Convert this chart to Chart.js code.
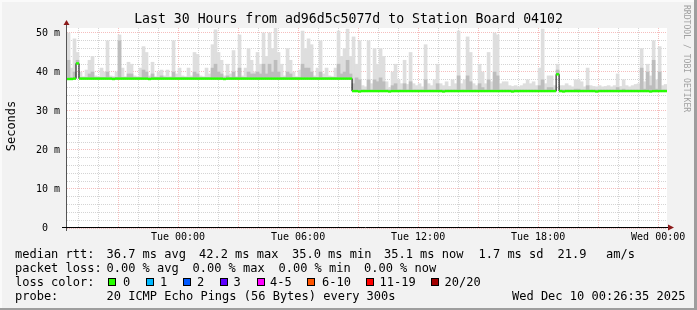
<!DOCTYPE html>
<html>
<head>
<meta charset="utf-8">
<script src="https://cdn.jsdelivr.net/npm/chart.js@4/dist/chart.umd.min.js"></script>
<style>
  html, body { margin: 0; padding: 0; }
  body { width: 697px; height: 310px; overflow: hidden; background: #f2f2f2; font-family: 'DejaVu Sans Mono', monospace; }
  #wrap { position: relative; width: 697px; height: 310px; }
  #chart { position: absolute; left: 0; top: 0; }
  .t { position: absolute; font-size: 12px; line-height: 14px; white-space: pre; color: #000; }
  .box { position: absolute; top: 278px; width: 6px; height: 6px; border: 1px solid #000; }
  .edge { position: absolute; }
</style>
</head>
<body>
<div id="wrap">
  <canvas id="chart" width="697" height="310"></canvas>

  <div class="t" style="left:0; top:11px; width:697px; text-align:center; font-size:13.2px; line-height:16px;">Last 30 Hours from ad96d5c5077d to Station Board 04102</div>
  <div class="t" style="left:-29px; top:119px; width:80px; text-align:center; transform:rotate(-90deg);">Seconds</div>
  <div class="t" style="left:683px; top:5px; font-size:8.1px; line-height:8px; writing-mode:vertical-rl; color:#a0a0a0;">RRDTOOL / TOBI OETIKER</div>

  <div class="t" style="left:15px; top:246.5px;">median rtt:</div>
  <div class="t" style="left:106.5px; top:246.5px;">36.7 ms avg</div>
  <div class="t" style="left:199px; top:246.5px;">42.2 ms max</div>
  <div class="t" style="left:292px; top:246.5px;">35.0 ms min</div>
  <div class="t" style="left:384px; top:246.5px;">35.1 ms now</div>
  <div class="t" style="left:478.5px; top:246.5px;">1.7 ms sd</div>
  <div class="t" style="left:557.5px; top:246.5px;">21.9</div>
  <div class="t" style="left:606px; top:246.5px;">am/s</div>

  <div class="t" style="left:15px; top:260.5px;">packet loss:</div>
  <div class="t" style="left:106.5px; top:260.5px;">0.00 % avg</div>
  <div class="t" style="left:192.5px; top:260.5px;">0.00 % max</div>
  <div class="t" style="left:278.5px; top:260.5px;">0.00 % min</div>
  <div class="t" style="left:364px; top:260.5px;">0.00 % now</div>

  <div class="t" style="left:15px; top:274.5px;">loss color:</div>
  <div id="lossLegend"></div>

  <div class="t" style="left:15px; top:288.5px;">probe:</div>
  <div class="t" style="left:106.5px; top:288.5px;">20 ICMP Echo Pings (56 Bytes) every 300s</div>
  <div class="t" style="left:512px; top:288.5px;">Wed Dec 10 00:26:35 2025</div>

  <div class="edge" style="left:0; top:0; width:697px; height:2px; background:#fafafa;"></div>
  <div class="edge" style="left:0; top:0; width:2px; height:310px; background:#fafafa;"></div>
  <div class="edge" style="right:0; top:0; width:3px; height:310px; background:#9e9e9e;"></div>
  <div class="edge" style="left:0; bottom:0; width:697px; height:2px; background:#9e9e9e;"></div>
</div>

<script>
// time base (hours counted from Mon 00:00), one sample every 9 minutes
const START = 18.45;
const END = 48.443;
const STEP = 0.15;

// x axis labels
const tickHours = [24, 30, 36, 42, 48];
const tickLabels = ['Tue 00:00', 'Tue 06:00', 'Tue 12:00', 'Tue 18:00', 'Wed 00:00'];

// y axis labels
const yTickValues = [0, 10, 20, 30, 40, 50];
const yTickLabels = ['0  ', '10 m', '20 m', '30 m', '40 m', '50 m'];

// loss colour legend
const lossNames = ['0', '1', '2', '3', '4-5', '6-10', '11-19', '20/20'];
const lossColors = ['#26ff00', '#00b8ff', '#0059ff', '#5e00ff', '#ff00ff', '#ff5500', '#ff0000', '#a10000'];
const lossBoxX = [108, 145.5, 182.5, 219.5, 256.5, 307, 365.5, 430.5];
const lossTextX = [123, 160, 197, 233.5, 270, 322, 379.5, 444.5];

// median rtt (ms)
const median = [
  38.2, 38.2, 38.3, 42.2, 38.3, 38.3, 38.3, 38.3, 38.3, 38.3,
  38.3, 38.3, 38.3, 38.3, 38.3, 38.2, 38.3, 38.3, 38.3, 38.3,
  38.3, 38.3, 38.3, 38.3, 38.3, 38.3, 38.3, 38.2, 38.3, 38.3,
  38.3, 38.3, 38.3, 38.3, 38.3, 38.3, 38.3, 38.3, 38.3, 38.3,
  38.3, 38.3, 38.3, 38.3, 38.3, 38.3, 38.3, 38.3, 38.3, 38.3,
  38.3, 38.3, 38.2, 38.3, 38.3, 38.3, 38.3, 38.3, 38.3, 38.3,
  38.3, 38.3, 38.3, 38.3, 38.3, 38.3, 38.3, 38.3, 38.3, 38.3,
  38.3, 38.3, 38.3, 38.3, 38.3, 38.3, 38.3, 38.3, 38.3, 38.3,
  38.3, 38.3, 38.3, 38.3, 38.3, 38.3, 38.3, 38.3, 38.3, 38.3,
  38.3, 38.3, 38.3, 38.3, 38.3, 35.1, 35.1, 35.0, 35.1, 35.1,
  35.1, 35.1, 35.1, 35.1, 35.1, 35.1, 35.1, 35.0, 35.1, 35.1,
  35.1, 35.1, 35.1, 35.1, 35.1, 35.1, 35.1, 35.1, 35.1, 35.1,
  35.1, 35.1, 35.1, 35.1, 35.1, 35.0, 35.1, 35.1, 35.1, 35.1,
  35.1, 35.1, 35.1, 35.1, 35.1, 35.1, 35.1, 35.1, 35.1, 35.1,
  35.1, 35.1, 35.1, 35.1, 35.1, 35.1, 35.1, 35.1, 35.0, 35.1,
  35.1, 35.1, 35.1, 35.1, 35.1, 35.1, 35.1, 35.1, 35.1, 35.1,
  35.1, 35.1, 35.1, 39.4, 35.1, 35.0, 35.1, 35.1, 35.1, 35.1,
  35.1, 35.1, 35.1, 35.1, 35.1, 35.1, 35.0, 35.1, 35.1, 35.1,
  35.1, 35.1, 35.1, 35.1, 35.1, 35.1, 35.1, 35.1, 35.1, 35.1,
  35.1, 35.1, 35.1, 35.1, 35.0, 35.1, 35.1, 35.1, 35.1, 35.1
];

// top of the darker smoke band (ms)
const smokeMid = [
  43, 38.6, 40, 43, 38.6, 38.6, 38.6, 39.5, 40, 38.6,
  38.6, 38.6, 38.6, 40, 38.6, 38.6, 38.6, 48, 38.6, 38.6,
  39.5, 39.5, 38.6, 38.6, 38.6, 40.5, 40, 38.6, 39.5, 38.6,
  38.6, 39, 38.6, 38.6, 38.6, 40, 38.6, 38.6, 38.6, 38.6,
  38.6, 38.6, 40, 39.5, 38.6, 38.6, 38.6, 38.6, 41, 42,
  40, 39.5, 38.6, 39, 38.6, 40, 38.6, 41, 38.6, 38.6,
  40, 39.5, 39.5, 40, 39.5, 42, 39.5, 42, 40, 43,
  40, 38.6, 38.6, 40, 39.5, 38.6, 38.6, 38.6, 42, 41,
  41, 40, 38.6, 38.6, 40, 38.6, 38.6, 38.6, 38.6, 38.6,
  42, 39.5, 40, 43, 39.5, 37, 38.5, 38, 35.4, 35.4,
  38, 35.4, 38, 37.5, 38.5, 37.5, 35.4, 35.4, 36.5, 37,
  35.4, 35.4, 37, 35.4, 37.5, 35.4, 35.4, 35.4, 35.4, 38,
  35.4, 35.4, 35.4, 37, 35.4, 35.4, 35.4, 35.4, 35.4, 35.4,
  39, 35.4, 35.4, 39, 37.5, 35.4, 35.4, 37, 36, 35.4,
  38, 35.4, 40, 39, 35.4, 35.4, 35.4, 35.4, 35.4, 35.4,
  35.4, 35.4, 35.4, 35.4, 35.4, 35.4, 35.4, 36.5, 38, 35.4,
  36, 36, 35.4, 40.5, 35.4, 35.4, 35.4, 35.4, 35.4, 35.6,
  35.6, 35.4, 35.4, 36.5, 35.4, 35.4, 35.4, 35.4, 35.4, 35.4,
  35.4, 35.4, 35.4, 36, 35.4, 35.6, 35.4, 35.4, 35.4, 35.4,
  35.4, 41, 35.6, 40, 36.5, 43, 35.6, 40, 35.4, 35.4
];

// max rtt, top of the light smoke (ms)
const smokeHi = [
  50, 41, 48.5, 45, 40, 38.8, 40.5, 43, 44, 39,
  38.8, 41, 40, 48, 39, 38.8, 40, 49.5, 41, 38.8,
  42.5, 42, 39, 38.8, 41, 46.5, 45, 39, 42.5, 38.8,
  40, 40.5, 39, 40.5, 38.8, 48, 39.5, 41, 39, 38.8,
  41, 39, 45, 44.5, 39, 38.8, 41, 39.5, 47, 50.8,
  45, 43, 39, 42, 39.5, 45.5, 38.8, 49.5, 39, 41,
  46, 43, 40, 45, 42, 50, 44, 50, 46, 51.5,
  45, 42, 39, 46, 43, 40, 38.8, 40.5, 50.5, 46,
  48.5, 47, 39, 41, 48, 39.5, 41, 39, 38.8, 41,
  50.5, 44, 46, 51, 44, 49, 42, 48, 36.5, 36.2,
  48, 37, 46, 42, 46, 44, 37.5, 36, 40, 42,
  38, 37, 43, 36.8, 45, 37, 36.5, 37, 36.2, 47,
  37, 36.5, 38, 42, 37, 36.5, 37.5, 36.3, 38, 37,
  50.5, 37, 38, 49, 45, 37, 36.5, 42, 40, 37,
  45, 37.5, 50, 49.5, 37, 37.5, 37.5, 36.5, 36.3, 36.5,
  36.2, 36.5, 37, 38, 37, 37.5, 36.5, 41, 51, 37,
  39, 39, 36.5, 42, 36.5, 36.5, 37, 36.5, 36.2, 38,
  38, 37.5, 36.2, 41, 36.5, 36.3, 36.2, 36.5, 36.2, 36.3,
  36.5, 36.2, 36.5, 39.5, 36.3, 38, 36.5, 36.2, 36.5, 36.8,
  37, 46, 37.5, 42, 39, 48, 38, 46.5, 36.5, 36.8
];

// legend boxes
const lossLegend = document.getElementById('lossLegend');
lossNames.forEach((name, i) => {
  const box = document.createElement('div');
  box.className = 'box';
  box.style.left = lossBoxX[i] + 'px';
  box.style.background = lossColors[i];
  lossLegend.appendChild(box);
  const txt = document.createElement('div');
  txt.className = 't';
  txt.style.left = lossTextX[i] + 'px';
  txt.style.top = '274.5px';
  txt.textContent = name;
  lossLegend.appendChild(txt);
});

const sampleTime = i => START + (i + 0.5) * STEP;
const points = arr => arr.map((v, i) => ({ x: sampleTime(i), y: v }));
const band = (lo, hi) => lo.map((v, i) => ({ x: sampleTime(i), y: [v, hi[i]] }));

const tickFont = { family: 'DejaVu Sans Mono', size: 10 };
const minorGrid = 'rgba(160,160,160,0.45)';
const majorGrid = 'rgba(230,90,90,0.4)';

// white canvas behind the graph
const plotBg = {
  id: 'plotBg',
  beforeDraw(chart) {
    const { ctx, chartArea: a } = chart;
    ctx.save();
    ctx.fillStyle = '#ffffff';
    ctx.fillRect(a.left, a.top, a.right - a.left, a.bottom - a.top);
    ctx.restore();
  }
};

// rrdtool style axes with arrows
const axesArrows = {
  id: 'axesArrows',
  afterDatasetsDraw(chart) {
    const { ctx, chartArea: a } = chart;
    const x0 = a.left - 0.5;
    const y0 = a.bottom - 0.5;
    ctx.save();
    ctx.lineWidth = 1;
    ctx.strokeStyle = '#555';
    ctx.beginPath();
    ctx.moveTo(x0, a.bottom + 3);
    ctx.lineTo(x0, a.top - 4);
    ctx.stroke();
    ctx.strokeStyle = '#000';
    ctx.beginPath();
    ctx.moveTo(a.left - 5, y0);
    ctx.lineTo(a.right + 2, y0);
    ctx.stroke();
    ctx.fillStyle = '#8b1a1a';
    ctx.beginPath();
    ctx.moveTo(x0, a.top - 8);
    ctx.lineTo(x0 - 3, a.top - 3);
    ctx.lineTo(x0 + 3, a.top - 3);
    ctx.closePath();
    ctx.fill();
    ctx.beginPath();
    ctx.moveTo(a.right + 7, y0);
    ctx.lineTo(a.right + 1, y0 - 3);
    ctx.lineTo(a.right + 1, y0 + 3);
    ctx.closePath();
    ctx.fill();
    ctx.restore();
  }
};

new Chart(document.getElementById('chart'), {
  type: 'bar',
  data: {
    datasets: [
      {
        type: 'line',
        data: points(median),
        showLine: false,
        pointStyle: 'line',
        pointRadius: 1.55,
        pointBorderWidth: 2.4,
        pointBorderColor: '#26ff00',
        pointBackgroundColor: '#26ff00',
        order: 0
      },
      {
        type: 'line',
        data: points(median),
        stepped: 'middle',
        borderColor: '#000',
        borderWidth: 1,
        pointRadius: 0,
        order: 1
      },
      {
        data: band(median, smokeMid),
        backgroundColor: '#bdbdbd',
        order: 2
      },
      {
        data: band(median, smokeHi),
        backgroundColor: '#dedede',
        order: 3
      }
    ]
  },
  options: {
    responsive: false,
    animation: false,
    devicePixelRatio: 1,
    grouped: false,
    barPercentage: 1,
    categoryPercentage: 1,
    borderWidth: 0,
    layout: { padding: { left: 0, right: 30, top: 28, bottom: 0 } },
    plugins: {
      legend: { display: false },
      tooltip: { enabled: false }
    },
    scales: {
      x: {
        type: 'linear',
        min: START,
        max: END,
        offset: false,
        grid: {
          offset: false,
          drawTicks: false,
          lineWidth: 1,
          color: c => (c.tick && Math.round(c.tick.value) % 3 === 0 ? majorGrid : minorGrid)
        },
        border: { display: false, dash: [1, 1] },
        ticks: {
          stepSize: 1,
          includeBounds: false,
          autoSkip: false,
          maxRotation: 0,
          padding: 3,
          color: '#000',
          font: tickFont,
          callback: v => {
            const k = tickHours.indexOf(Math.round(v));
            return k < 0 ? '' : tickLabels[k];
          }
        },
        afterFit: s => { s.height = 82; }
      },
      y: {
        min: 0,
        max: 51.28,
        grid: {
          drawTicks: false,
          lineWidth: 1,
          color: c => (c.tick && Math.round(c.tick.value) % 10 === 0 ? majorGrid : minorGrid)
        },
        border: { display: false, dash: [1, 1] },
        ticks: {
          stepSize: 2,
          includeBounds: false,
          autoSkip: false,
          padding: 7,
          color: '#000',
          font: tickFont,
          callback: v => {
            const k = yTickValues.indexOf(Math.round(v));
            return k < 0 ? '' : yTickLabels[k];
          }
        },
        afterFit: s => { s.width = 67; }
      }
    }
  },
  plugins: [plotBg, axesArrows]
});
</script>
</body>
</html>
